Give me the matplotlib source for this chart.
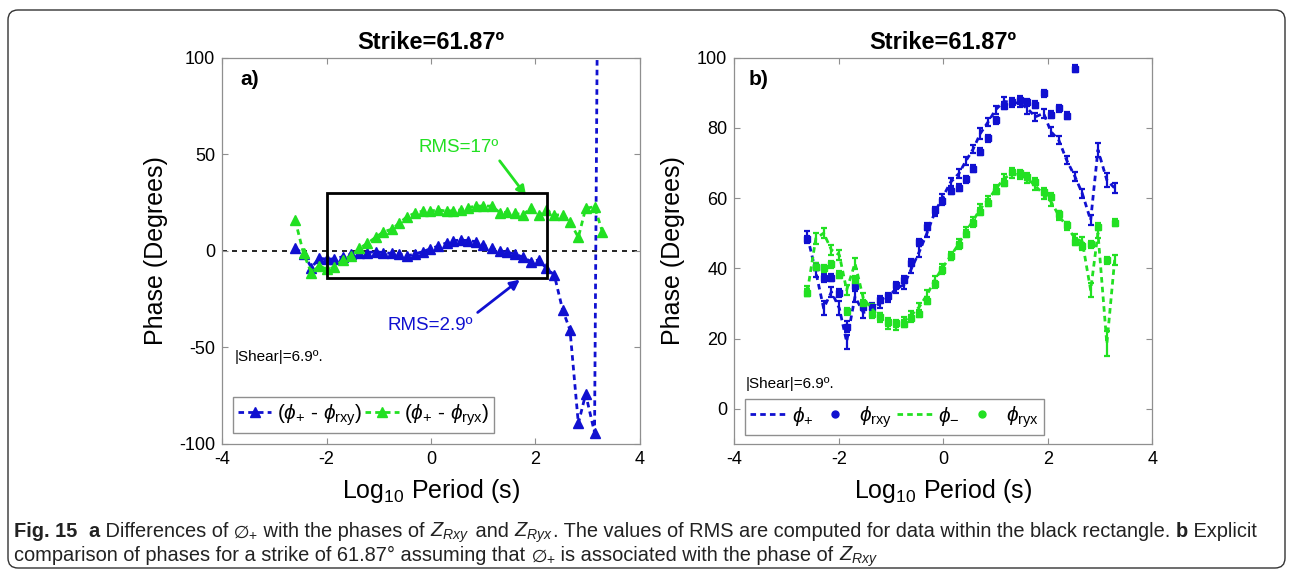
import matplotlib
matplotlib.use('Agg')
import matplotlib.pyplot as plt
from matplotlib.lines import Line2D
from matplotlib.patches import Rectangle, FancyBboxPatch
from matplotlib.transforms import IdentityTransform
from matplotlib import font_manager

# ---------------- data ----------------
log_period = [-2.60, -2.44, -2.29, -2.14, -1.99, -1.85, -1.69, -1.53, -1.37, -1.22,
              -1.06, -0.91, -0.75, -0.61, -0.46, -0.31, -0.16, -0.02, 0.14, 0.30,
              0.43, 0.57, 0.71, 0.86, 1.00, 1.16, 1.32, 1.46, 1.61, 1.76,
              1.92, 2.06, 2.21, 2.36, 2.52, 2.66, 2.82, 2.96, 3.13, 3.28]

# panel a: phase differences (degrees)
diff_plus_rxy = [1.2, -1.5, -8.7, -4.0, -4.3, -4.3, -3.1, -1.7, -1.0, -1.0,
                 -0.5, -1.0, -1.4, -1.7, -2.7, -1.7, -0.5, 0.9, 2.4, 4.1,
                 5.2, 5.5, 5.2, 4.7, 3.0, 1.2, 0.0, -0.9, -1.7, -3.4,
                 -5.7, -4.8, -9.1, -12.6, -30.7, -41.0, -89.4, -74.2, -94.2, 500.0]
diff_plus_ryx = [15.9, -1.4, -11.4, -7.9, -9.6, -8.6, -4.8, -2.7, 1.2, 3.8,
                 6.9, 9.8, 11.1, 14.2, 17.6, 19.4, 20.5, 20.5, 21.1, 20.5,
                 20.7, 21.1, 22.3, 23.1, 23.1, 23.1, 19.7, 19.9, 19.4, 18.5,
                 22.3, 18.5, 21.1, 18.5, 18.5, 15.0, 6.9, 21.9, 22.8, 9.8]

# panel b: phases (degrees)
phi_plus = [49.0, 39.0, 28.6, 33.3, 28.6, 19.1, 31.9, 27.4, 28.1, 30.0,
            31.6, 34.2, 35.3, 39.9, 44.7, 50.1, 56.0, 60.0, 64.5, 67.0,
            70.5, 73.9, 78.4, 81.7, 85.1, 87.5, 87.2, 87.0, 85.5, 83.1,
            84.1, 78.9, 76.5, 70.8, 66.1, 61.3, 53.7, 73.7, 65.1, 62.8]
err_plus = [1.5, 1.5, 2.0, 1.5, 2.0, 2.0, 1.5, 1.5, 1.2, 1.2,
            1.2, 1.2, 1.2, 1.2, 1.5, 1.2, 1.2, 1.2, 1.2, 1.2,
            1.2, 1.2, 1.5, 1.2, 1.2, 1.2, 1.2, 1.2, 1.5, 1.2,
            1.2, 1.2, 1.2, 1.2, 1.2, 1.2, 1.5, 2.0, 2.0, 1.5]
phi_rxy = [48.2, 40.5, 37.3, 37.3, 32.9, 23.4, 35.0, 29.1, 29.1, 31.0,
           32.1, 35.2, 36.7, 41.6, 47.4, 51.8, 56.5, 59.1, 62.1, 62.9,
           65.3, 68.4, 73.2, 77.0, 82.1, 86.3, 87.2, 87.9, 87.2, 86.5,
           89.8, 83.7, 85.6, 83.4, 96.8, 102.3, 143.1, 147.9, 159.3, 130.0]
err_rxy = [1.0, 1.0, 1.2, 1.0, 1.2, 1.5, 1.0, 1.0, 1.0, 1.0,
           1.0, 1.0, 1.0, 1.0, 1.0, 1.0, 1.0, 1.0, 1.0, 1.0,
           1.0, 1.0, 1.0, 1.0, 1.0, 1.0, 1.0, 1.0, 1.0, 1.0,
           1.0, 1.0, 1.0, 1.0, 1.0, 1.0, 1.0, 1.0, 1.0, 1.0]
phi_minus = [33.5, 48.5, 50.0, 45.2, 43.8, 33.8, 41.4, 31.4, 28.5, 26.0,
             24.0, 23.5, 25.0, 26.7, 29.0, 32.5, 36.7, 40.0, 43.5, 47.0,
             50.5, 53.5, 57.0, 59.5, 62.5, 65.5, 67.0, 66.5, 65.5, 63.5,
             61.0, 59.0, 55.0, 52.0, 48.5, 47.6, 33.8, 50.0, 18.5, 42.4]
err_minus = [1.5, 1.5, 1.5, 1.5, 1.5, 1.5, 1.5, 1.5, 1.2, 1.2,
             1.2, 1.2, 1.2, 1.2, 1.2, 1.2, 1.2, 1.2, 1.2, 1.2,
             1.2, 1.2, 1.2, 1.2, 1.2, 1.2, 1.2, 1.2, 1.2, 1.2,
             1.2, 1.2, 1.2, 1.2, 1.2, 1.2, 2.0, 1.5, 3.5, 1.5]
phi_ryx = [33.1, 40.4, 40.0, 41.2, 38.2, 27.7, 36.7, 30.1, 26.9, 26.2,
           24.7, 24.4, 24.2, 25.7, 27.1, 30.7, 35.5, 39.5, 43.4, 46.5,
           49.8, 52.8, 56.1, 58.6, 62.0, 64.4, 67.5, 67.1, 66.1, 64.6,
           61.8, 60.4, 55.4, 52.3, 47.6, 46.3, 46.8, 51.8, 42.3, 53.0]
err_ryx = [1.0] * 40

xticks = [-4, -2, 0, 2, 4]
yticks_a = [-100, -50, 0, 50, 100]
yticks_b = [0, 20, 40, 60, 80, 100]

# ---------------- fonts ----------------
names = {f.name for f in font_manager.fontManager.ttflist}
BASE = 'Liberation Sans' if 'Liberation Sans' in names else 'DejaVu Sans'
NARROW = 'Liberation Sans Narrow' if 'Liberation Sans Narrow' in names else BASE

plt.rcParams.update({
    'font.family': [BASE, 'DejaVu Sans'],
    'mathtext.fontset': 'custom',
    'mathtext.rm': BASE,
    'mathtext.it': BASE + ':italic',
    'mathtext.bf': BASE + ':bold',
    'mathtext.fallback': 'stixsans',
    'axes.unicode_minus': False,
})

BLUE = '#1010d0'
GREEN = '#22e022'
FRAME = '#8f8f8f'
DASH = (0, (2.0, 1.5))

W, H = 1293, 574
fig = plt.figure(figsize=(W / 100, H / 100), dpi=100)
fig.patch.set_facecolor('white')

axa = fig.add_axes([222 / W, 1 - 443.9 / H, 418 / W, 386.4 / H])
axb = fig.add_axes([734.3 / W, 1 - 443.9 / H, 418 / W, 386.4 / H])


def style(ax):
    for s in ax.spines.values():
        s.set_color(FRAME)
        s.set_linewidth(0.9)
    ax.tick_params(direction='in', top=True, right=True, length=4,
                   color=FRAME, labelcolor='black', labelsize=13, pad=5)
    ax.set_xlim(-4, 4)
    ax.set_xticks(xticks)
    ax.set_title('Strike=61.87º', fontsize=17, fontweight='bold', pad=6)
    ax.set_xlabel('Log$_{10}$ Period (s)', fontsize=18)
    ax.set_ylabel('Phase (Degrees)', fontsize=18)


# ---------------- panel a ----------------
style(axa)
axa.set_ylim(-100, 100)
axa.set_yticks(yticks_a)
axa.axhline(0, color='k', lw=1.2, ls=(0, (3, 3)), zorder=1)
axa.plot(log_period, diff_plus_rxy, color=BLUE, ls=DASH, lw=2, marker='^', ms=6.5,
         label=r'$(\phi_{+}$ - $\phi_{\mathrm{rxy}})$', zorder=3)
axa.plot(log_period, diff_plus_ryx, color=GREEN, ls=DASH, lw=2, marker='^', ms=6.5,
         label=r'$(\phi_{+}$ - $\phi_{\mathrm{ryx}})$', zorder=3)
axa.add_patch(Rectangle((-2.0, -14.0), 4.22, 44.0, fill=False, ec='k', lw=2, zorder=4))
axa.annotate('RMS=17º', xy=(1.82, 28.5), xytext=(0.52, 53.5), color=GREEN, fontsize=13.5,
             ha='center', va='center',
             arrowprops=dict(arrowstyle='-|>', color=GREEN, lw=2, relpos=(0.97, 0.0),
                             shrinkA=2, shrinkB=0, mutation_scale=14))
axa.annotate('RMS=2.9º', xy=(1.70, -15.0), xytext=(-0.02, -38.5), color=BLUE, fontsize=13.5,
             ha='center', va='center',
             arrowprops=dict(arrowstyle='-|>', color=BLUE, lw=2, relpos=(0.97, 0.9),
                             shrinkA=2, shrinkB=0, mutation_scale=14))
axa.text(0.043, 0.942, 'a)', transform=axa.transAxes, fontsize=15, fontweight='bold',
         ha='left', va='center')
axa.text(0.031, 0.226, '|Shear|=6.9º.', transform=axa.transAxes, fontsize=11,
         ha='left', va='center')
axa.legend(loc='lower left', bbox_to_anchor=(0.026, 0.028), borderaxespad=0, ncol=2,
           fontsize=15, handlelength=1.6, handletextpad=0.25, columnspacing=0.15,
           borderpad=0.25, fancybox=False, edgecolor=FRAME, framealpha=1)
axa.yaxis.set_label_coords(-0.128, 0.5)
axa.xaxis.set_label_coords(0.5, -0.085)

# ---------------- panel b ----------------
style(axb)
axb.set_ylim(-10, 100)
axb.set_yticks(yticks_b)
ebk = dict(capsize=2.5, elinewidth=1.6, capthick=1.6)
axb.errorbar(log_period, phi_plus, yerr=err_plus, color=BLUE, ls=DASH, lw=2, **ebk, zorder=3)
axb.errorbar(log_period, phi_rxy, yerr=err_rxy, color=BLUE, ls='none', marker='s', ms=4.5,
             **ebk, zorder=3)
axb.errorbar(log_period, phi_minus, yerr=err_minus, color=GREEN, ls=DASH, lw=2, **ebk, zorder=3)
axb.errorbar(log_period, phi_ryx, yerr=err_ryx, color=GREEN, ls='none', marker='s', ms=4.5,
             **ebk, zorder=3)
axb.text(0.033, 0.943, 'b)', transform=axb.transAxes, fontsize=15, fontweight='bold',
         ha='left', va='center')
axb.text(0.026, 0.156, '|Shear|=6.9º.', transform=axb.transAxes, fontsize=11,
         ha='left', va='center')
handles = [Line2D([], [], color=BLUE, ls=DASH, lw=2),
           Line2D([], [], color=BLUE, ls='none', marker='o', ms=5),
           Line2D([], [], color=GREEN, ls=DASH, lw=2),
           Line2D([], [], color=GREEN, ls='none', marker='o', ms=5)]
labels = [r'$\phi_{+}$', r'$\phi_{\mathrm{rxy}}$', r'$\phi_{-}$', r'$\phi_{\mathrm{ryx}}$']
axb.legend(handles, labels, loc='lower left', bbox_to_anchor=(0.026, 0.023), borderaxespad=0,
           ncol=4, fontsize=15, handlelength=1.7, handletextpad=0.3, columnspacing=0.2,
           borderpad=0.25, fancybox=False, edgecolor=FRAME, framealpha=1)
axb.yaxis.set_label_coords(-0.118, 0.5)
axb.xaxis.set_label_coords(0.5, -0.085)

# ---------------- outer rounded frame ----------------
frame = FancyBboxPatch((8, 574 - 568), 1277, 558, boxstyle='round,pad=0,rounding_size=10',
                       transform=IdentityTransform(), fill=False, ec='#333333', lw=1.0)
fig.add_artist(frame)

# ---------------- caption ----------------
line1 = [('Fig. 15', 'bold'), ('  ', 'normal'), ('a', 'bold'),
         (' Differences of ', 'normal'), (r'$\emptyset_{+}$', 'normal'),
         (' with the phases of ', 'normal'), (r'$Z_{Rxy}$', 'normal'),
         (' and ', 'normal'), (r'$Z_{Ryx}$', 'normal'),
         ('. The values of RMS are computed for data within the black rectangle. ', 'normal'),
         ('b', 'bold'), (' Explicit', 'normal')]
line2 = [('comparison of phases for a strike of 61.87° assuming that ', 'normal'),
         (r'$\emptyset_{+}$', 'normal'), (' is associated with the phase of ', 'normal'),
         (r'$Z_{Rxy}$', 'normal')]

renderer = fig.canvas.get_renderer()


def put_runs(items, x_px, base_px, size):
    x = x_px
    arts = []
    for s, w in items:
        t = fig.text(x / W, 1 - base_px / H, s, fontsize=size, fontweight=w,
                     family=[NARROW, 'DejaVu Sans'], ha='left', va='baseline', color='#222222')
        bb = t.get_window_extent(renderer)
        x += bb.width
        arts.append(t)
    return x, arts


end, arts = put_runs(line1, 14, 537, 12)
for a in arts:
    a.remove()
size = 12 * (1262 - 14) / (end - 14)
put_runs(line1, 14, 537, size)
put_runs(line2, 14, 561, size)

fig.savefig('out.png', dpi=100)
